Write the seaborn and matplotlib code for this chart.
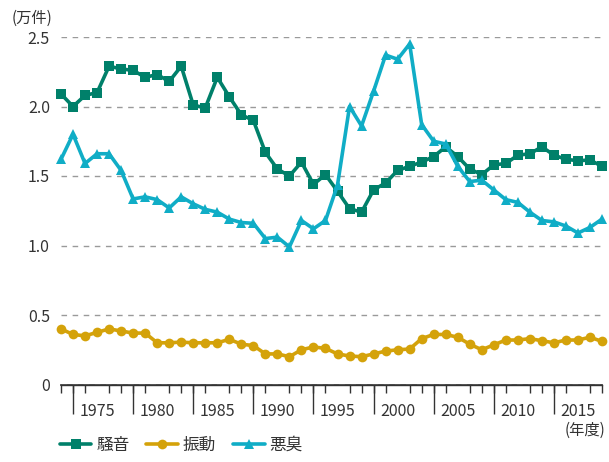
import pandas as pd
import seaborn as sns
import matplotlib.pyplot as plt

years = list(range(1972, 2018))

# 騒音（万件）
noise = [2.09, 2.00, 2.08, 2.10, 2.29, 2.27, 2.26, 2.21, 2.23, 2.18,
         2.29, 2.01, 1.99, 2.21, 2.07, 1.94, 1.90, 1.67, 1.55, 1.50,
         1.60, 1.44, 1.51, 1.39, 1.265, 1.24, 1.40, 1.45, 1.54, 1.57,
         1.60, 1.64, 1.71, 1.64, 1.55, 1.51, 1.58, 1.59, 1.65, 1.66,
         1.71, 1.65, 1.62, 1.61, 1.615, 1.57]
# 振動（万件）
vibration = [0.40, 0.36, 0.35, 0.375, 0.40, 0.385, 0.37, 0.37, 0.30, 0.30,
             0.305, 0.30, 0.30, 0.30, 0.325, 0.29, 0.28, 0.22, 0.22, 0.20,
             0.25, 0.27, 0.26, 0.22, 0.205, 0.20, 0.22, 0.24, 0.25, 0.255,
             0.33, 0.36, 0.36, 0.34, 0.29, 0.25, 0.285, 0.32, 0.32, 0.33,
             0.315, 0.30, 0.32, 0.32, 0.34, 0.31]
# 悪臭（万件）
odor = [1.62, 1.80, 1.59, 1.66, 1.66, 1.54, 1.335, 1.35, 1.33, 1.27,
        1.35, 1.30, 1.26, 1.24, 1.19, 1.165, 1.16, 1.05, 1.06, 0.99,
        1.18, 1.12, 1.18, 1.435, 2.00, 1.86, 2.11, 2.37, 2.34, 2.45,
        1.87, 1.75, 1.73, 1.57, 1.46, 1.47, 1.40, 1.33, 1.31, 1.24,
        1.18, 1.17, 1.14, 1.09, 1.13, 1.19]

kinds = ['騒音', '振動', '悪臭']
colors = ['#00806a', '#d4a20a', '#10adc6']
markers = ['s', 'o', '^']

df = pd.DataFrame({'年度': years, '騒音': noise, '振動': vibration, '悪臭': odor})
df = df.melt(id_vars='年度', var_name='種類', value_name='件数')

sns.set_theme(style='white')
plt.rcParams['font.family'] = ['Noto Sans CJK JP', 'DejaVu Sans']
text_color = '#333333'

fig = plt.figure(figsize=(6.09, 4.62), dpi=100)
ax = fig.add_axes([61 / 609, 1 - 384.5 / 462, (602 - 61) / 609, (384.5 - 37) / 462])

sns.lineplot(data=df, x='年度', y='件数', hue='種類', style='種類',
             hue_order=kinds, style_order=kinds,
             palette=dict(zip(kinds, colors)),
             markers=dict(zip(kinds, markers)), dashes=False,
             lw=2.6, markersize=7, markeredgewidth=0, clip_on=False, ax=ax)

ax.set_xlim(1972, 2017)
ax.set_ylim(0, 2.5)
ax.set_xlabel('')
ax.set_ylabel('')

# y軸
ax.set_yticks([0, 0.5, 1.0, 1.5, 2.0, 2.5])
ax.set_yticklabels(['0', '0.5', '1.0', '1.5', '2.0', '2.5'])
ax.yaxis.grid(True, linestyle=(0, (4, 4)), color='#9a9a9a', lw=1)
ax.tick_params(axis='y', length=0, pad=8, labelsize=11.5, labelcolor=text_color)

# x軸（目盛りは毎年、長い目盛りは5年ごと）
ax.set_xticks(range(1975, 2016, 5))
ax.set_xticklabels([str(y) for y in range(1975, 2016, 5)])
ax.set_xticks(years, minor=True)
ax.tick_params(axis='x', which='major', length=0, pad=13, labelsize=11.5, labelcolor=text_color)
ax.tick_params(axis='x', which='minor', bottom=True, length=6, width=1, color='#333333')
sec = ax.secondary_xaxis('bottom')
sec.set_xticks(range(1973, 2014, 5))
sec.tick_params(length=21, width=1, color='#333333', labelbottom=False)
sec.spines['bottom'].set_color('#333333')

for s in ['left', 'right', 'top']:
    ax.spines[s].set_visible(False)
ax.spines['bottom'].set_color('#333333')
ax.spines['bottom'].set_linewidth(1)

fig.text(12 / 609, 1 - 18 / 462, '(万件)', fontsize=11, color=text_color, va='center')
fig.text(605 / 609, 1 - 430 / 462, '(年度)', fontsize=11, color=text_color, va='center', ha='right')

handles, labels = ax.get_legend_handles_labels()
ax.legend(handles, labels, ncol=3, loc='center left', bbox_to_anchor=(-0.03, -0.175),
          frameon=False, fontsize=12, handlelength=1.9, handletextpad=0.3,
          columnspacing=1.0, labelcolor=text_color)

fig.savefig('out.png', dpi=100)
